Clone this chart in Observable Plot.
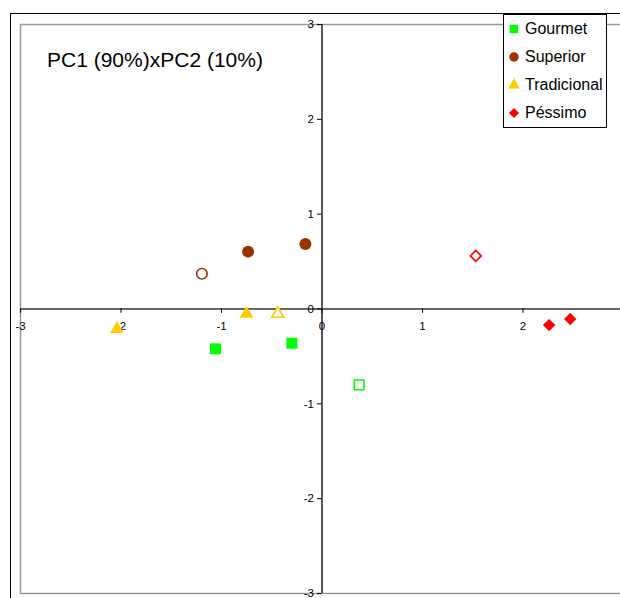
<!DOCTYPE html>
<html>
<head>
<meta charset="utf-8">
<script src="https://cdn.jsdelivr.net/npm/d3@7"></script>
<script src="https://cdn.jsdelivr.net/npm/@observablehq/plot@0.6"></script>
<style>
  html, body { margin: 0; padding: 0; background: white; overflow: hidden; }
  #wrap { position: relative; width: 620px; height: 598px; overflow: hidden; font-family: "Liberation Sans", Arial, sans-serif; }
  #outer { position: absolute; left: 10px; top: 13px; width: 800px; height: 800px; border: 1.5px solid #000; }
  #chart { position: absolute; left: 0; top: 0; }
  #title { position: absolute; left: 47px; top: 49px; font-size: 21px; line-height: 1; color: #000; white-space: nowrap; }
  #legend { position: absolute; left: 502.5px; top: 13.5px; width: 104px; height: 114px; box-sizing: border-box; border: 1px solid #000; background: #fff; }
  .row { height: 28px; display: flex; align-items: center; font-size: 16px; color: #000; }
  .row svg { width: 14px; height: 14px; margin-left: 3.5px; margin-right: 4px; flex: none; }
</style>
</head>
<body>
<div id="wrap">
  <div id="outer"></div>
  <div id="chart"></div>
  <div id="title">PC1 (90%)xPC2 (10%)</div>
  <div id="legend"></div>
</div>
<script>
// ---- data ----
const categories = ["Gourmet", "Superior", "Tradicional", "Péssimo"];
const colors = ["#00FF00", "#993300", "#FFCC00", "#FF0000"];
const symbols = ["square", "circle", "triangle", "diamond2"];

const gourmetPC1 = [-1.06, -0.30, 0.37];
const gourmetPC2 = [-0.42, -0.36, -0.80];
const gourmetFilled = [true, true, false];

const superiorPC1 = [-0.735, -0.165, -1.195];
const superiorPC2 = [0.605, 0.685, 0.372];
const superiorFilled = [true, true, false];

const tradicionalPC1 = [-0.75, -2.04, -0.44];
const tradicionalPC2 = [-0.05, -0.21, -0.05];
const tradicionalFilled = [true, true, false];

const pessimoPC1 = [2.26, 2.47, 1.53];
const pessimoPC2 = [-0.17, -0.105, 0.56];
const pessimoFilled = [true, true, false];

const xTicks = [-3, -2, -1, 0, 1, 2];
const yTicks = [-3, -2, -1, 0, 1, 2, 3];

// ---- table ----
const series = [
  [gourmetPC1, gourmetPC2, gourmetFilled],
  [superiorPC1, superiorPC2, superiorFilled],
  [tradicionalPC1, tradicionalPC2, tradicionalFilled],
  [pessimoPC1, pessimoPC2, pessimoFilled]
];
const symbolR = { square: 6.2, circle: 6.0, triangle: 5.1, diamond2: 5.6 };
const points = [];
series.forEach(([xs, ys, fs], gi) => {
  xs.forEach((x, i) => points.push({
    group: categories[gi], pc1: x, pc2: ys[i], filled: fs[i],
    color: colors[gi], symbol: symbols[gi]
  }));
});

const chart = Plot.plot({
  width: 620,
  height: 598,
  marginLeft: 20,
  marginRight: -3,
  marginTop: 24,
  marginBottom: 5,
  style: { background: "transparent", overflow: "hidden", fontFamily: "Liberation Sans, Arial, sans-serif" },
  x: { domain: [-3, 3], axis: null },
  y: { domain: [-3, 3], axis: null },
  symbol: { domain: categories, range: symbols },
  r: { type: "identity" },
  color: { type: "identity" },
  marks: [
    Plot.frame({ stroke: "#999", strokeWidth: 1.5 }),
    Plot.ruleY([0], { stroke: "#666", strokeWidth: 1.8 }),
    Plot.ruleX([0], { stroke: "#000", strokeWidth: 1.3 }),
    Plot.ruleX(xTicks, { x: d => d, y1: 0, y2: -0.045, stroke: "#000", strokeWidth: 1 }),
    Plot.ruleY(yTicks, { y: d => d, x1: 0, x2: -0.045, stroke: "#000", strokeWidth: 1 }),
    Plot.text(xTicks, { x: d => d, y: 0, text: d => String(d), dy: 17, fontSize: 11.5, fill: "#000", textAnchor: "middle" }),
    Plot.text(yTicks, { x: 0, y: d => d, text: d => String(d), dx: -8, fontSize: 11.5, fill: "#000", textAnchor: "end" }),
    Plot.dot(points, {
      x: "pc1", y: "pc2",
      symbol: "group",
      r: d => d.filled ? symbolR[d.symbol] : symbolR[d.symbol] * 0.88,
      fill: d => d.filled ? d.color : "white",
      stroke: d => d.color,
      strokeWidth: d => d.filled ? 0 : 1.6
    })
  ]
});
document.getElementById("chart").appendChild(chart);

// ---- legend ----
const legend = d3.select("#legend");
const legendSize = { square: 70, circle: 70, triangle: 60, diamond2: 66 };
const d3sym = { square: d3.symbolSquare, circle: d3.symbolCircle, triangle: d3.symbolTriangle, diamond2: d3.symbolDiamond2 };
categories.forEach((c, i) => {
  const row = legend.append("div").attr("class", "row");
  const svg = row.append("svg").attr("viewBox", "-7 -7 14 14");
  svg.append("path")
    .attr("d", d3.symbol(d3sym[symbols[i]], legendSize[symbols[i]])())
    .attr("fill", colors[i]);
  row.append("span").text(c);
});
</script>
</body>
</html>
